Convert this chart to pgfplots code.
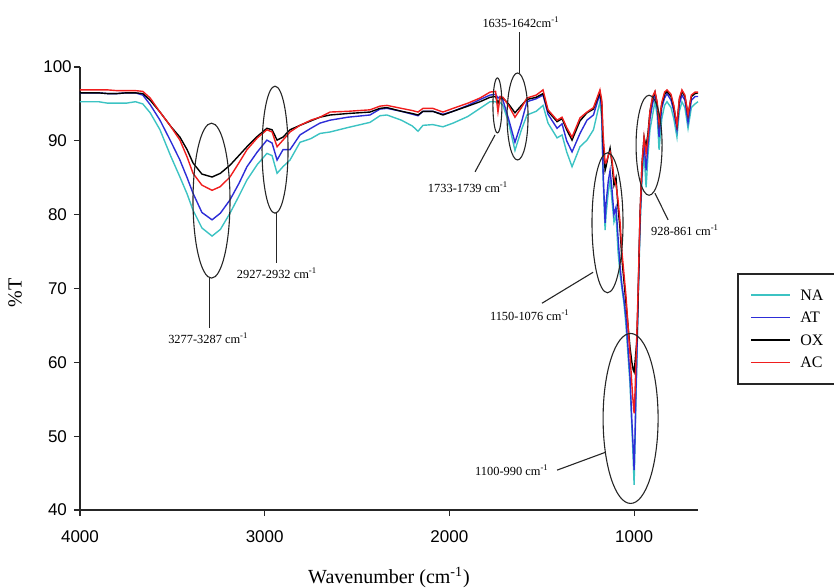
\documentclass[border=0pt]{standalone}
\usepackage{pgfplots}
\pgfplotsset{compat=1.18}
\usepackage{pgfplotstable}
\usepackage{fontspec}
\setmainfont{Liberation Serif}
\newfontfamily\sansf{Liberation Sans}
\definecolor{naC}{RGB}{60,195,195}
\definecolor{atC}{RGB}{45,45,215}
\definecolor{oxC}{RGB}{0,0,0}
\definecolor{acC}{RGB}{240,30,30}

\pgfplotstableread{
w NA AT OX AC
4000 95.3 96.5 96.5 96.9
3900 95.3 96.5 96.5 96.9
3850 95.1 96.4 96.4 96.9
3800 95.1 96.4 96.4 96.8
3750 95.1 96.5 96.5 96.8
3700 95.3 96.5 96.5 96.8
3660 95.0 96.2 96.4 96.7
3620 93.8 94.9 95.5 95.8
3567 91.5 92.8 93.9 93.9
3510 88.0 90.0 92.0 92.0
3459 85.1 87.4 90.5 90.1
3420 82.8 85.0 88.8 87.8
3388 80.6 82.9 87.0 85.6
3340 78.2 80.3 85.5 84.0
3285 77.1 79.3 85.1 83.3
3240 78.0 80.2 85.6 83.8
3188 80.2 82.0 86.7 85.1
3140 82.5 84.2 88.0 87.0
3096 84.7 86.5 89.2 88.8
3040 86.8 88.5 90.6 90.4
2988 88.3 90.1 91.7 91.5
2960 88.0 89.7 91.5 91.2
2933 85.6 87.4 90.1 89.2
2901 86.5 88.8 90.5 90.1
2863 87.4 88.8 91.5 91.2
2809 89.8 90.8 92.1 92.1
2750 90.3 91.7 92.7 92.8
2701 91.0 92.4 93.2 93.2
2646 91.2 92.8 93.5 93.9
2550 91.8 93.2 93.7 94.0
2430 92.5 93.5 93.9 94.2
2376 93.4 94.3 94.4 94.7
2338 93.5 94.4 94.5 94.8
2260 92.8 94.0 94.0 94.4
2200 92.0 93.6 93.7 94.1
2170 91.3 93.4 93.5 93.9
2143 92.1 94.0 94.0 94.4
2090 92.2 94.0 94.0 94.4
2035 91.9 93.6 93.5 93.9
1980 92.4 94.0 94.0 94.4
1900 93.3 94.8 94.7 95.1
1834 94.4 95.6 95.3 95.8
1780 95.3 96.2 95.9 96.6
1750 95.3 96.3 96.0 96.7
1737 95.0 95.8 95.1 93.9
1725 95.2 96.0 95.8 96.0
1710 94.8 95.5 95.8 95.9
1680 92.5 93.0 95.0 94.8
1645 88.7 89.8 93.8 93.2
1610 91.5 92.5 94.8 94.5
1580 93.5 95.3 95.6 95.8
1530 94.0 95.7 95.9 96.2
1493 94.8 96.2 96.4 96.9
1466 92.4 93.6 94.0 94.2
1417 90.4 91.7 92.6 92.8
1390 90.8 92.3 93.0 93.2
1365 88.5 90.0 91.5 91.8
1336 86.5 88.5 90.1 90.5
1293 89.2 91.0 92.7 93.1
1255 90.1 92.8 93.8 93.9
1220 91.5 93.5 94.3 94.5
1185 95.3 96.4 96.6 96.9
1175 93.0 94.0 95.0 95.5
1168 85.0 86.0 90.0 91.0
1157 77.9 78.9 86.0 87.0
1152 80.0 81.5 86.5 87.0
1140 83.0 84.5 88.0 88.0
1130 84.7 86.0 89.0 88.5
1120 82.0 83.5 87.0 87.5
1109 79.0 80.0 84.0 85.0
1098 80.0 81.0 85.0 84.0
1087 75.0 77.0 81.0 82.0
1076 72.0 73.0 78.0 79.0
1066 70.0 70.5 74.0 75.0
1055 68.0 68.5 71.0 72.0
1044 65.0 66.0 68.0 69.0
1033 61.0 62.0 65.0 65.0
1022 57.0 58.0 62.0 61.0
1012 51.0 52.0 60.0 57.0
1005 47.0 48.5 59.0 54.5
1000 43.4 45.4 58.7 53.1
995 49.0 50.0 60.0 56.0
990 55.0 56.0 61.5 60.0
985 60.0 61.0 63.0 64.0
978 68.4 69.0 69.0 70.0
968 78.0 79.0 80.0 80.0
957 85.0 86.0 87.0 87.0
946 88.3 89.7 90.5 90.5
935 83.7 86.0 89.2 88.3
925 88.0 89.5 91.0 90.5
914 91.5 93.0 94.0 94.0
900 93.5 95.0 95.8 96.0
887 95.3 96.4 96.6 96.7
875 93.5 94.5 95.0 95.2
865 88.8 90.5 92.4 92.4
850 93.0 94.5 95.0 95.2
835 94.8 95.8 96.3 96.6
822 95.3 96.4 96.7 96.9
800 94.5 95.5 96.0 96.3
785 93.0 94.0 94.5 94.8
768 90.5 91.5 92.1 92.1
755 94.0 95.0 95.6 95.8
741 95.3 96.2 96.7 96.9
725 94.5 95.5 96.0 96.2
708 91.7 92.5 93.5 93.5
690 94.5 95.5 96.0 96.2
670 95.0 96.0 96.4 96.6
654 95.3 96.0 96.5 96.6
}\spec

\begin{document}
\begin{tikzpicture}
\begin{axis}[
  at={(0,0)}, anchor=south west,
  scale only axis, width=309pt, height=221.5pt,
  xmin=-4000, xmax=-654, ymin=40, ymax=100,
  clip=false,
  axis lines=left,
  axis line style={-, line width=0.6pt, black!85},
  tick align=outside,
  major tick length=3pt,
  tick style={black!85, line width=0.6pt},
  xtick={-4000,-3000,-2000,-1000},
  xticklabels={4000,3000,2000,1000},
  ytick={40,50,60,70,80,90,100},
  /pgf/number format/assume math mode=true,
  ticklabel style={font=\sansf\fontsize{8.5}{10}\selectfont},
  yticklabel style={anchor=center, xshift=-8.25pt},
  xticklabel style={anchor=center, yshift=-10.5pt},
  xlabel={Wavenumber (cm\textsuperscript{-1})},
  ylabel={\%T},
  label style={font=\fontsize{8.3}{10}\selectfont},
  every axis x label/.style={at={(axis description cs:0.5,-0.153)}, anchor=center},
  every axis y label/.style={at={(axis description cs:-0.105,0.49)}, rotate=90, anchor=center},
]
\addplot[draw=naC, line width=0.7pt] table[x expr=-\thisrow{w}, y=NA] {\spec};
\addplot[draw=atC, line width=0.7pt] table[x expr=-\thisrow{w}, y=AT] {\spec};
\addplot[draw=oxC, line width=0.7pt] table[x expr=-\thisrow{w}, y=OX] {\spec};
\addplot[draw=acC, line width=0.7pt] table[x expr=-\thisrow{w}, y=AC] {\spec};

% legend (frame, sample lines, names)
\draw[black!85, line width=0.6pt, fill=white] (rel axis cs:1.0647,0.5327) rectangle (rel axis cs:1.35,0.2844);
\tikzset{legtxt/.style={anchor=west, inner sep=0pt, font=\fontsize{8}{9.6}\selectfont, text height=6pt, text depth=1pt}}
\draw[naC, line width=0.9pt] (rel axis cs:1.0858,0.4853) -- (rel axis cs:1.1489,0.4853);
\node[legtxt] at (rel axis cs:1.1650,0.4853) {NA};
\draw[atC, line width=0.9pt] (rel axis cs:1.0858,0.4345) -- (rel axis cs:1.1489,0.4345);
\node[legtxt] at (rel axis cs:1.1650,0.4345) {AT};
\draw[oxC, line width=0.9pt] (rel axis cs:1.0858,0.3837) -- (rel axis cs:1.1489,0.3837);
\node[legtxt] at (rel axis cs:1.1650,0.3837) {OX};
\draw[acC, line width=0.9pt] (rel axis cs:1.0858,0.3330) -- (rel axis cs:1.1489,0.3330);
\node[legtxt] at (rel axis cs:1.1650,0.3330) {AC};

\tikzset{annot/.style={black!85, line width=0.55pt}, lab/.style={font=\fontsize{6.2}{7}\selectfont, inner sep=0pt}}
% 3277-3287
\draw[annot] (axis cs:-3288,81.9) ellipse [x radius=9.25pt, y radius=38.75pt];
\draw[annot] (axis cs:-3300,71.4) -- (axis cs:-3300,64.6);
\node[lab] at (axis cs:-3305,63.3) {3277-3287 cm\textsuperscript{-1}};
% 2927-2932
\draw[annot] (axis cs:-2944,88.8) ellipse [x radius=6.5pt, y radius=31.75pt];
\draw[annot] (axis cs:-2935,80.2) -- (axis cs:-2935,73.4);
\node[lab] at (axis cs:-2933,72.1) {2927-2932 cm\textsuperscript{-1}};
% 1733-1739
\draw[annot] (axis cs:-1740,94.8) ellipse [x radius=2.25pt, y radius=13.75pt];
\draw[annot] (axis cs:-1753,90.8) -- (axis cs:-1861,85.8);
\node[lab] at (axis cs:-1899,83.7) {1733-1739 cm\textsuperscript{-1}};
% 1635-1642
\draw[annot] (axis cs:-1631,93.3) ellipse [x radius=5.25pt, y radius=21.75pt];
\draw[annot] (axis cs:-1620,99.2) -- (axis cs:-1620,104.7);
\node[lab] at (axis cs:-1612,106.1) {1635-1642cm\textsuperscript{-1}};
% 1150-1076
\draw[annot] (axis cs:-1144,78.9) ellipse [x radius=7.75pt, y radius=35pt];
\draw[annot] (axis cs:-1222,72.2) -- (axis cs:-1499,68.0);
\node[lab] at (axis cs:-1564,66.4) {1150-1076 cm\textsuperscript{-1}};
% 1100-990
\draw[annot] (axis cs:-1019,52.4) ellipse [x radius=13.75pt, y radius=42.5pt];
\draw[annot] (axis cs:-1157,47.8) -- (axis cs:-1417,45.4);
\node[lab] at (axis cs:-1661,45.4) {1100-990 cm\textsuperscript{-1}};
% 928-861
\draw[annot] (axis cs:-919,89.4) ellipse [x radius=6.5pt, y radius=25pt];
\draw[annot] (axis cs:-887,82.9) -- (axis cs:-816,79.3);
\node[lab] at (axis cs:-724,77.9) {928-861 cm\textsuperscript{-1}};
\end{axis}
\pgfresetboundingbox
\useasboundingbox (-40pt,-39pt) rectangle (377pt,255pt);
\end{tikzpicture}
\end{document}
